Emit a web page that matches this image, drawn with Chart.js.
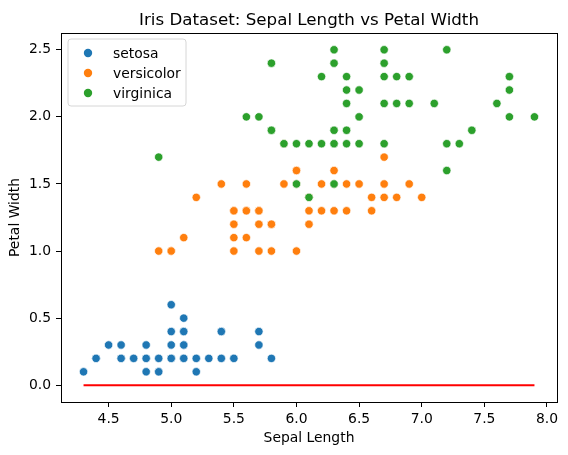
<!DOCTYPE html>
<html>
<head>
<meta charset="utf-8">
<script src="https://cdn.jsdelivr.net/npm/chart.js@4.4.1/dist/chart.umd.min.js"></script>
<style>
  html, body { margin: 0; padding: 0; background: #fff; }
  #wrap { width: 568px; height: 455px; }
</style>
</head>
<body>
<div id="wrap"><canvas id="chart" width="568" height="455"></canvas></div>
<script>
// Iris: sepal length (x) vs petal width (y)
const setosaX = [5.1,4.9,4.7,4.6,5.0,5.4,4.6,5.0,4.4,4.9,5.4,4.8,4.8,4.3,5.8,5.7,5.4,5.1,5.7,5.1,5.4,5.1,4.6,5.1,4.8,5.0,5.0,5.2,5.2,4.7,4.8,5.4,5.2,5.5,4.9,5.0,5.5,4.9,4.4,5.1,5.0,4.5,4.4,5.0,5.1,4.8,5.1,4.6,5.3,5.0];
const setosaY = [0.2,0.2,0.2,0.2,0.2,0.4,0.3,0.2,0.2,0.1,0.2,0.2,0.1,0.1,0.2,0.4,0.4,0.3,0.3,0.3,0.2,0.4,0.2,0.5,0.2,0.2,0.4,0.2,0.2,0.2,0.2,0.4,0.1,0.2,0.2,0.2,0.2,0.1,0.2,0.2,0.3,0.3,0.2,0.6,0.4,0.3,0.2,0.2,0.2,0.2];

const versicolorX = [7.0,6.4,6.9,5.5,6.5,5.7,6.3,4.9,6.6,5.2,5.0,5.9,6.0,6.1,5.6,6.7,5.6,5.8,6.2,5.6,5.9,6.1,6.3,6.1,6.4,6.6,6.8,6.7,6.0,5.7,5.5,5.5,5.8,6.0,5.4,6.0,6.7,6.3,5.6,5.5,5.5,6.1,5.8,5.0,5.6,5.7,5.7,6.2,5.1,5.7];
const versicolorY = [1.4,1.5,1.5,1.3,1.5,1.3,1.6,1.0,1.3,1.4,1.0,1.5,1.0,1.4,1.3,1.4,1.5,1.0,1.5,1.1,1.8,1.3,1.5,1.2,1.3,1.4,1.4,1.7,1.5,1.0,1.1,1.0,1.2,1.6,1.5,1.6,1.5,1.3,1.3,1.3,1.2,1.4,1.2,1.0,1.3,1.2,1.3,1.3,1.1,1.3];

const virginicaX = [6.3,5.8,7.1,6.3,6.5,7.6,4.9,7.3,6.7,7.2,6.5,6.4,6.8,5.7,5.8,6.4,6.5,7.7,7.7,6.0,6.9,5.6,7.7,6.3,6.7,7.2,6.2,6.1,6.4,7.2,7.4,7.9,6.4,6.3,6.1,7.7,6.3,6.4,6.0,6.9,6.7,6.9,5.8,6.8,6.7,6.7,6.3,6.5,6.2,5.9];
const virginicaY = [2.5,1.9,2.1,1.8,2.2,2.1,1.7,1.8,1.8,2.5,2.0,1.9,2.1,2.0,2.4,2.3,1.8,2.2,2.3,1.5,2.3,2.0,2.0,1.8,2.1,1.8,1.8,1.8,2.1,1.6,1.9,2.0,2.2,1.5,1.4,2.3,2.4,1.8,1.8,2.1,2.4,2.3,1.9,2.3,2.5,2.3,1.9,2.0,2.3,1.8];

// red line along y = 0
const lineX = [4.3, 7.9];
const lineY = [0, 0];

const xTicks = [4.5, 5.0, 5.5, 6.0, 6.5, 7.0, 7.5, 8.0];
const yTicks = [0.0, 0.5, 1.0, 1.5, 2.0, 2.5];

const FONT = 'DejaVu Sans';

function pts(xs, ys) {
  return xs.map((x, i) => ({ x: x, y: ys[i] }));
}

// lower order = drawn later (on top), so later species overlap earlier ones
function scatterSet(label, xs, ys, color, order) {
  return {
    type: 'scatter',
    label: label,
    data: pts(xs, ys),
    backgroundColor: color,
    borderColor: '#ffffff',
    borderWidth: 0.7,
    pointRadius: 4.2,
    pointHoverRadius: 4.2,
    order: order,
  };
}

// title centred over the axes, matplotlib style
const titlePlugin = {
  id: 'mplTitle',
  afterDraw(chart) {
    const { ctx, chartArea: a } = chart;
    ctx.save();
    ctx.fillStyle = '#000';
    ctx.font = `16.7px "${FONT}"`;
    ctx.textAlign = 'center';
    ctx.textBaseline = 'alphabetic';
    ctx.fillText('Iris Dataset: Sepal Length vs Petal Width', (a.left + a.right) / 2, a.top - 8.5);
    ctx.restore();
  }
};

// full axes frame + legend box
const framePlugin = {
  id: 'frame',
  afterDraw(chart) {
    const { ctx, chartArea: a } = chart;
    ctx.save();
    ctx.strokeStyle = '#000';
    ctx.lineWidth = 1;
    ctx.strokeRect(Math.round(a.left) + 0.5, Math.round(a.top) + 0.5,
      Math.round(a.right - a.left), Math.round(a.bottom - a.top));

    // legend
    const bx = a.left + 7, by = a.top + 6, bw = 118, bh = 67, r = 3;
    ctx.beginPath();
    ctx.moveTo(bx + r, by);
    ctx.arcTo(bx + bw, by, bx + bw, by + bh, r);
    ctx.arcTo(bx + bw, by + bh, bx, by + bh, r);
    ctx.arcTo(bx, by + bh, bx, by, r);
    ctx.arcTo(bx, by, bx + bw, by, r);
    ctx.closePath();
    ctx.fillStyle = 'rgba(255,255,255,0.8)';
    ctx.fill();
    ctx.strokeStyle = '#d6d6d6';
    ctx.stroke();

    ctx.font = `13.9px "${FONT}"`;
    ctx.textAlign = 'left';
    ctx.textBaseline = 'middle';
    const sets = chart.data.datasets.filter(d => d.type === 'scatter');
    sets.forEach((ds, i) => {
      const cy = by + 14 + i * 20;
      ctx.beginPath();
      ctx.arc(bx + 20, cy, 4.2, 0, Math.PI * 2);
      ctx.fillStyle = ds.backgroundColor;
      ctx.fill();
      ctx.fillStyle = '#000';
      ctx.fillText(ds.label, bx + 45, cy + 1);
    });
    ctx.restore();
  }
};

new Chart(document.getElementById('chart'), {
  data: {
    datasets: [
      scatterSet('setosa', setosaX, setosaY, '#1f77b4', 4),
      scatterSet('versicolor', versicolorX, versicolorY, '#ff7f0e', 3),
      scatterSet('virginica', virginicaX, virginicaY, '#2ca02c', 2),
      {
        type: 'line',
        label: 'zero',
        data: pts(lineX, lineY),
        borderColor: '#ff0000',
        borderWidth: 2,
        pointRadius: 0,
        fill: false,
        order: 1,
      },
    ],
  },
  options: {
    responsive: false,
    animation: false,
    layout: { padding: { top: 33, right: 11, left: 0, bottom: 0 } },
    plugins: {
      legend: { display: false },
      title: { display: false },
      tooltip: { enabled: false },
    },
    scales: {
      x: {
        type: 'linear',
        min: 4.12,
        max: 8.08,
        afterFit(scale) { scale.height = 53; },
        afterBuildTicks(scale) { scale.ticks = xTicks.map(v => ({ value: v })); },
        grid: { drawOnChartArea: false, drawTicks: true, tickLength: 5, color: '#000' },
        border: { display: false },
        ticks: {
          color: '#000',
          padding: 4,
          maxRotation: 0,
          font: { family: FONT, size: 13.9 },
          callback: v => v.toFixed(1),
        },
        title: {
          display: true,
          text: 'Sepal Length',
          color: '#000',
          font: { family: FONT, size: 13.9 },
          padding: { top: 0, bottom: 8 },
        },
      },
      y: {
        type: 'linear',
        min: -0.125,
        max: 2.625,
        afterFit(scale) { scale.width = 61; },
        afterBuildTicks(scale) { scale.ticks = yTicks.map(v => ({ value: v })); },
        grid: { drawOnChartArea: false, drawTicks: true, tickLength: 5, color: '#000' },
        border: { display: false },
        ticks: {
          color: '#000',
          padding: 5,
          font: { family: FONT, size: 13.9 },
          callback: v => v.toFixed(1),
        },
        title: {
          display: true,
          text: 'Petal Width',
          color: '#000',
          font: { family: FONT, size: 13.9 },
          padding: { top: 7, bottom: 0 },
        },
      },
    },
  },
  plugins: [titlePlugin, framePlugin],
});
</script>
</body>
</html>
